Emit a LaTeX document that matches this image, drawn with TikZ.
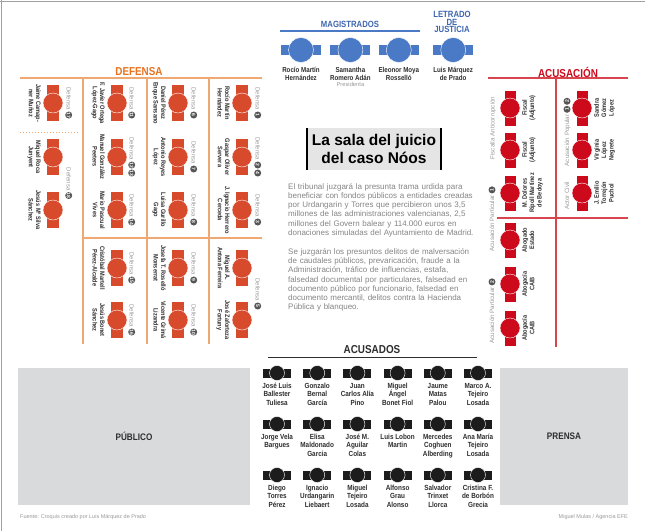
\documentclass[tikz,border=0pt]{standalone}
\usepackage{fontspec}
\setmainfont{Liberation Sans}
\newfontfamily\narrowfont[FakeStretch=0.86]{Liberation Sans}
\usetikzlibrary{positioning}
\usetikzlibrary{calc}
\setlength{\parindent}{0pt}

\definecolor{magblue}{HTML}{4A7AC6}
\definecolor{magtext}{HTML}{3E66B0}
\definecolor{defred}{HTML}{D84A2C}
\definecolor{deforange}{HTML}{E8731F}
\definecolor{defline}{HTML}{F0A872}
\definecolor{acured}{HTML}{CC0A1C}
\definecolor{aculine}{HTML}{D9454F}
\definecolor{dockblack}{HTML}{1C1C1C}
\definecolor{areagray}{HTML}{D9DADC}
\definecolor{numgray}{HTML}{555555}
\definecolor{labgray}{HTML}{9A9A9A}
\definecolor{bodygray}{HTML}{858585}
\definecolor{namegray}{HTML}{2E2E2E}
\definecolor{framegray}{HTML}{A0A0A0}

\newcommand{\fsz}[2]{\fontsize{#1}{#2}\selectfont}
\newcommand{\defnum}[1]{\tikz[reset cm,baseline=-2.1pt]\node[numcirc]{#1};}

\tikzset{
seat/.style n args={4}{
	rectangle,
	fill=#1,
	minimum width=#2,
	minimum height=#3,
	inner sep=0pt,
	label={[circle, fill=#1, draw=white, line width=0.4pt, minimum size=#4, inner sep=0pt]center:}
},
magseat/.style={seat={magblue}{40pt}{10pt}{25pt}},
defseat/.style={seat={defred}{12pt}{36pt}{20pt}},
acuseat/.style={seat={acured}{11pt}{35pt}{20pt}},
dockseat/.style={seat={dockblack}{28pt}{9pt}{15pt}},
sectitle/.style={
	font=\narrowfont\bfseries\fsz{11.5}{11.5},
	inner sep=0pt
},
magtitle/.style={
	font=\narrowfont\bfseries\fsz{9}{7.7},
	text=magtext,
	align=center,
	inner sep=0pt
},
magname/.style={
	font=\narrowfont\bfseries\fsz{7.2}{7.6},
	text=namegray,
	align=center,
	inner sep=0pt
},
presname/.style={
	font=\fsz{5.8}{6},
	text=labgray,
	inner sep=0pt
},
defname/.style={
	font=\narrowfont\bfseries\fsz{6.5}{7.3},
	text=namegray,
	align=center,
	inner sep=0pt,
	rotate=-90
},
acuname/.style={
	font=\narrowfont\bfseries\fsz{6.5}{7.3},
	text=namegray,
	align=center,
	inner sep=0pt,
	rotate=90
},
deflab/.style={
	font=\fsz{6}{6},
	text=labgray,
	inner sep=0pt,
	rotate=-90
},
sidelab/.style={
	font=\fsz{6.2}{6.2},
	text=labgray,
	inner sep=0pt,
	rotate=90
},
numcirc/.style={
	circle,
	fill=numgray,
	text=white,
	font=\bfseries\fsz{5}{5},
	inner sep=0pt,
	minimum size=7pt,
	anchor=center
},
dockname/.style={
	font=\narrowfont\bfseries\fsz{7.4}{8.5},
	text=namegray,
	align=center,
	inner sep=0pt
},
area/.style={
	rectangle,
	fill=areagray,
	font=\narrowfont\bfseries\fsz{9.5}{9.5},
	text=namegray,
	inner sep=0pt
},
footer/.style={
	font=\fsz{5.5}{5.5},
	text=labgray,
	inner sep=0pt
},
defrule/.style={draw=defline, line width=1.2pt},
acurule/.style={draw=aculine, line width=1.2pt},
magrule/.style={draw=magblue, line width=1.2pt},
dockrule/.style={draw=namegray, line width=1pt}
}

\begin{document}
\begin{tikzpicture}[x=1pt, y=-1pt]

\useasboundingbox[fill=white] (0,0) rectangle (645,531);
\draw [draw=framegray, line width=1.5pt] (0,1.5) -- (645,1.5);
\draw [draw=framegray, line width=1.5pt] (1.5,0) -- (1.5,531);

% magistrados
\node (magtit) [magtitle] at (350,24) {MAGISTRADOS};
\draw [magrule] (280,31) -- (420,31);
\node (letrado) [magtitle] at (452,22) {LETRADO\\DE\\JUSTICIA};

\node (mag1) [magseat] at (301,50) {};
\node (mag2) [magseat, right=9pt of mag1] {};
\node (mag3) [magseat, right=8pt of mag2] {};
\node (mag4) [magseat, right=14pt of mag3] {};

\node (magname1) [magname, below=12pt of mag1] {Rocío Martín\\Hernández};
\node (magname2) [magname, below=12pt of mag2] {Samantha\\Romero Adán};
\node (magname3) [magname, below=12pt of mag3] {Eleonor Moya\\Rosselló};
\node (magname4) [magname, below=12pt of mag4] {Luis Márquez\\de Prado};
\node (presi) [presname, below=2pt of magname2] {Presidenta};

% defensa
\node (deftit) [sectitle, text=deforange] at (139,72) {DEFENSA};
\draw [defrule] (20,78) -- (262,78);
\draw [defrule] (83,78) -- (83,344);
\draw [defrule] (147,78) -- (147,344);
\draw [defrule] (209,78) -- (209,344);
\draw [defrule] (83,238) -- (262,238);
\draw [draw=defline, line width=1pt, dotted] (20,132) -- (80,132);

\node (defA1) [defseat] at (53,103) {};
\node (defA2) [defseat] at (53,157) {};
\node (defA3) [defseat] at (53,210) {};
\node (defB1) [defseat] at (117,103) {};
\node (defB2) [defseat] at (117,157) {};
\node (defB3) [defseat] at (117,210) {};
\node (defB4) [defseat] at (117,268) {};
\node (defB5) [defseat] at (117,320) {};
\node (defC1) [defseat] at (178,103) {};
\node (defC2) [defseat] at (178,157) {};
\node (defC3) [defseat] at (178,210) {};
\node (defC4) [defseat] at (178,268) {};
\node (defC5) [defseat] at (178,320) {};
\node (defD1) [defseat] at (242,103) {};
\node (defD2) [defseat] at (242,157) {};
\node (defD3) [defseat] at (242,210) {};
\node (defD4) [defseat] at (242,268) {};
\node (defD5) [defseat] at (242,320) {};

\node (dnameA1) [defname, anchor=north] at ([xshift=-12pt]defA1.center) {Jaime Camap-\\ner Muñoz};
\node (dnameA2) [defname, anchor=north] at ([xshift=-12pt]defA2.center) {Miquel Roca\\Junyent};
\node (dnameA3) [defname, anchor=north] at ([xshift=-12pt]defA3.center) {Jesús Mª Silva\\Sánchez};
\node (dnameB1) [defname, anchor=north] at ([xshift=-12pt]defB1.center) {F. Javier Ortega\\López-Gago};
\node (dnameB2) [defname, anchor=north] at ([xshift=-12pt]defB2.center) {Manuel González\\Peeters};
\node (dnameB3) [defname, anchor=north] at ([xshift=-12pt]defB3.center) {Mario Pascual\\Vives};
\node (dnameB4) [defname, anchor=north] at ([xshift=-12pt]defB4.center) {Cristóbal Martell\\Pérez-Alcalde};
\node (dnameB5) [defname, anchor=north] at ([xshift=-12pt]defB5.center) {Jesús Bonet\\Sánchez};
\node (dnameC1) [defname, anchor=north] at ([xshift=-12pt]defC1.center) {Daniel Pérez\\Enque Sansano};
\node (dnameC2) [defname, anchor=north] at ([xshift=-12pt]defC2.center) {Antonio Reyes\\López};
\node (dnameC3) [defname, anchor=north] at ([xshift=-12pt]defC3.center) {Luisa Gurillo\\Gago};
\node (dnameC4) [defname, anchor=north] at ([xshift=-12pt]defC4.center) {Josefa T. Roselló\\Monserrat};
\node (dnameC5) [defname, anchor=north] at ([xshift=-12pt]defC5.center) {Vicente Grimá\\Lizandra};
\node (dnameD1) [defname, anchor=north] at ([xshift=-12pt]defD1.center) {Rocío Martín\\Hernández};
\node (dnameD2) [defname, anchor=north] at ([xshift=-12pt]defD2.center) {Gaspar Oliver\\Servera};
\node (dnameD3) [defname, anchor=north] at ([xshift=-12pt]defD3.center) {J. Ignacio Herrero\\Cerceda};
\node (dnameD4) [defname, anchor=north] at ([xshift=-12pt]defD4.center) {Miguel A.\\Antona Ferreira};
\node (dnameD5) [defname, anchor=north] at ([xshift=-12pt]defD5.center) {José Zaforteza\\Fortuny};

\node (dlabA1) [deflab, anchor=south] at ([xshift=12pt]defA1.center) {Defensa \defnum{17}};
\node (dlabA2) [deflab, anchor=south] at ($(defA2.center)!0.5!(defA3.center)+(12,0)$) {Defensa \defnum{18}};
\node (dlabB1) [deflab, anchor=south] at ([xshift=11pt]defB1.center) {Defensa \defnum{11}};
\node (dlabB2) [deflab, anchor=south] at ([xshift=11pt]defB2.center) {Defensa \defnum{12}\,\defnum{13}};
\node (dlabB3) [deflab, anchor=south] at ([xshift=11pt]defB3.center) {Defensa \defnum{14}};
\node (dlabB4) [deflab, anchor=south] at ([xshift=11pt]defB4.center) {Defensa \defnum{15}};
\node (dlabB5) [deflab, anchor=south] at ([xshift=11pt]defB5.center) {Defensa \defnum{16}};
\node (dlabC1) [deflab, anchor=south] at ([xshift=12pt]defC1.center) {Defensa \defnum{6}};
\node (dlabC2) [deflab, anchor=south] at ([xshift=12pt]defC2.center) {Defensa \defnum{7}};
\node (dlabC3) [deflab, anchor=south] at ([xshift=12pt]defC3.center) {Defensa \defnum{8}};
\node (dlabC4) [deflab, anchor=south] at ([xshift=12pt]defC4.center) {Defensa \defnum{9}};
\node (dlabC5) [deflab, anchor=south] at ([xshift=12pt]defC5.center) {Defensa \defnum{10}};
\node (dlabD1) [deflab, anchor=south] at ([xshift=12pt]defD1.center) {Defensa \defnum{1}};
\node (dlabD2) [deflab, anchor=south] at ([xshift=12pt]defD2.center) {Defensa \defnum{2}\,\defnum{4}};
\node (dlabD3) [deflab, anchor=south] at ([xshift=12pt]defD3.center) {Defensa \defnum{3}};
\node (dlabD4) [deflab, anchor=south] at ($(defD4.center)!0.5!(defD5.center)+(12,0)$) {Defensa \defnum{5}};

% acusacion
\node (acutit) [sectitle, text=acured] at (568,72) {ACUSACIÓN};
\draw [acurule] (488,78) -- (628,78);
\draw [acurule] (556,78) -- (556,347);
\draw [acurule] (497,218) -- (628,218);

\node (acu1) [acuseat] at (510,108) {};
\node (acu2) [acuseat] at (510,150) {};
\node (acu3) [acuseat] at (510,193) {};
\node (acu4) [acuseat] at (510,240) {};
\node (acu5) [acuseat] at (510,284) {};
\node (acu6) [acuseat] at (510,328) {};
\node (acu7) [acuseat] at (582,108) {};
\node (acu8) [acuseat] at (582,150) {};
\node (acu9) [acuseat] at (582,193) {};

\node (aname1) [acuname, anchor=north] at ([xshift=12pt]acu1.center) {Fiscal\\(Adjunto)};
\node (aname2) [acuname, anchor=north] at ([xshift=12pt]acu2.center) {Fiscal\\(Adjunto)};
\node (aname3) [acuname, anchor=north] at ([xshift=12pt]acu3.center) {M. Dolores\\Ripoll Martínez\\de Bedoya};
\node (aname4) [acuname, anchor=north] at ([xshift=12pt]acu4.center) {Abogado\\Estado};
\node (aname5) [acuname, anchor=north] at ([xshift=12pt]acu5.center) {Abogacía\\CAIB};
\node (aname6) [acuname, anchor=north] at ([xshift=12pt]acu6.center) {Abogacía\\CAIB};
\node (aname7) [acuname, anchor=north] at ([xshift=12pt]acu7.center) {Sandra\\Gómez\\López};
\node (aname8) [acuname, anchor=north] at ([xshift=12pt]acu8.center) {Virginia\\López\\Negrete};
\node (aname9) [acuname, anchor=north] at ([xshift=12pt]acu9.center) {J. Emilio\\Torrejón\\Puchol};

\node (fiscalia) [sidelab] at (493,128) {Fiscalía Anticorrupción};
\node (popular) [sidelab] at (567,132) {Acusación Popular \defnum{1}\,\defnum{2}};
\node (actor) [sidelab] at (567,196) {Actor Civil};
\node (particular1) [sidelab] at (492,219) {Acusación Particular \defnum{1}};
\node (particular2) [sidelab] at (492,311) {Acusación Particular \defnum{2}};

% texto central
\node (titlebox) [rectangle, fill=black!10, minimum width=134pt, minimum height=42pt,
  font=\bfseries\fsz{15.5}{18}, align=center, inner sep=0pt] at (374,149) {La sala del juicio\\del caso Nóos};
\draw [line width=1.5pt] (titlebox.north west) -- (titlebox.south west);
\draw [line width=1.5pt] (titlebox.north east) -- (titlebox.south east);

\node (bodytext) [anchor=north west, text width=192pt, align=left, font=\fsz{8}{9.3},
  text=bodygray, inner sep=0pt] at (288,183) {%
\noindent El tribunal juzgará la presunta trama urdida para\\
beneficiar con fondos públicos a entidades creadas\\
por Urdangarin y Torres que percibieron unos 3,5\\
millones de las administraciones valencianas, 2,5\\
millones del Govern balear y 114.000 euros en\\
donaciones simuladas del Ayuntamiento de Madrid.\\[9.3pt]
Se juzgarán los presuntos delitos de malversación\\
de caudales públicos, prevaricación, fraude a la\\
Administración, tráfico de influencias, estafa,\\
falsedad documental por particulares, falsedad en\\
documento público por funcionario, falsedad en\\
documento mercantil, delitos contra la Hacienda\\
Pública y blanqueo.};

% acusados
\node (docktit) [sectitle, text=namegray] at (372,350) {ACUSADOS};
\draw [dockrule] (268,357) -- (477,357);

\node (acc11) [dockseat] at (277,373) {};
\node (acc12) [dockseat, right=11.8pt of acc11] {};
\node (acc13) [dockseat, right=11.8pt of acc12] {};
\node (acc14) [dockseat, right=11.8pt of acc13] {};
\node (acc15) [dockseat, right=11.8pt of acc14] {};
\node (acc16) [dockseat, right=11.8pt of acc15] {};
\node (acc21) [dockseat] at (277,424) {};
\node (acc22) [dockseat, right=11.8pt of acc21] {};
\node (acc23) [dockseat, right=11.8pt of acc22] {};
\node (acc24) [dockseat, right=11.8pt of acc23] {};
\node (acc25) [dockseat, right=11.8pt of acc24] {};
\node (acc26) [dockseat, right=11.8pt of acc25] {};
\node (acc31) [dockseat] at (277,475) {};
\node (acc32) [dockseat, right=11.8pt of acc31] {};
\node (acc33) [dockseat, right=11.8pt of acc32] {};
\node (acc34) [dockseat, right=11.8pt of acc33] {};
\node (acc35) [dockseat, right=11.8pt of acc34] {};
\node (acc36) [dockseat, right=11.8pt of acc35] {};

\node (cname11) [dockname, below=5pt of acc11] {José Luis\\Ballester\\Tuliesa};
\node (cname12) [dockname, below=5pt of acc12] {Gonzalo\\Bernal\\García};
\node (cname13) [dockname, below=5pt of acc13] {Juan\\Carlos Alía\\Pino};
\node (cname14) [dockname, below=5pt of acc14] {Miguel\\Ángel\\Bonet Fiol};
\node (cname15) [dockname, below=5pt of acc15] {Jaume\\Matas\\Palou};
\node (cname16) [dockname, below=5pt of acc16] {Marco A.\\Tejeiro\\Losada};
\node (cname21) [dockname, below=5pt of acc21] {Jorge Vela\\Bargues};
\node (cname22) [dockname, below=5pt of acc22] {Elisa\\Maldonado\\Garcia};
\node (cname23) [dockname, below=5pt of acc23] {José M.\\Aguilar\\Colas};
\node (cname24) [dockname, below=5pt of acc24] {Luis Lobon\\Martin};
\node (cname25) [dockname, below=5pt of acc25] {Mercedes\\Coghuen\\Alberding};
\node (cname26) [dockname, below=5pt of acc26] {Ana María\\Tejeiro\\Losada};
\node (cname31) [dockname, below=5pt of acc31] {Diego\\Torres\\Pérez};
\node (cname32) [dockname, below=5pt of acc32] {Ignacio\\Urdangarin\\Liebaert};
\node (cname33) [dockname, below=5pt of acc33] {Miguel\\Tejeiro\\Losada};
\node (cname34) [dockname, below=5pt of acc34] {Alfonso\\Grau\\Alonso};
\node (cname35) [dockname, below=5pt of acc35] {Salvador\\Trinxet\\Llorca};
\node (cname36) [dockname, below=5pt of acc36] {Cristina F.\\de Borbón\\Grecia};

% publico y prensa
\node (publico) [area, minimum width=232pt, minimum height=137pt] at (134,436.5) {PÚBLICO};
\node (prensa) [area, minimum width=128pt, minimum height=137pt] at (564,436.5) {PRENSA};

\node (fuente) [footer, anchor=west] at (20,517) {Fuente: Croquis creado por Luis Márquez de Prado};
\node (firma) [footer, anchor=east] at (628,517) {Miguel Mulas / Agencia EFE};

\end{tikzpicture}
\end{document}
